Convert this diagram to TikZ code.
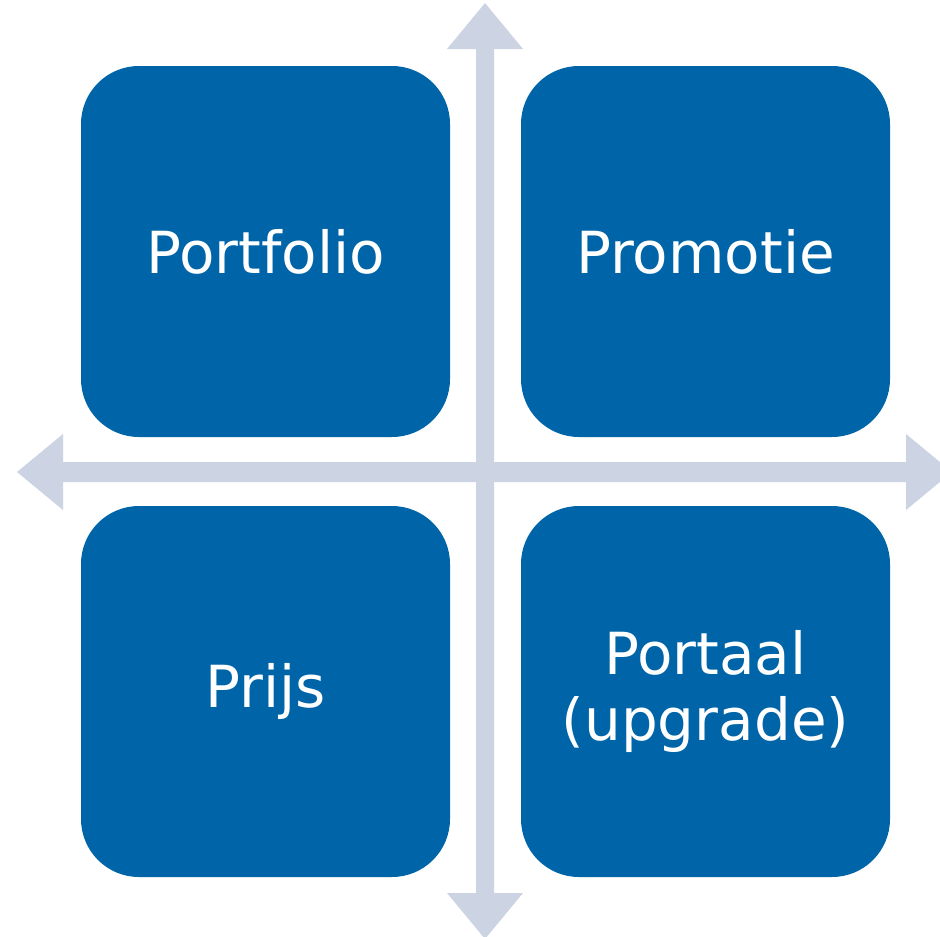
\documentclass[tikz,border=0pt]{standalone}
\usepackage{fontspec}
\setmainfont{DejaVu Sans}
\definecolor{boxblue}{HTML}{0065A8}
\definecolor{axisgray}{HTML}{CCD3E3}
\begin{document}
\begin{tikzpicture}[x=1pt,y=-1pt,
  quad/.style={rectangle, rounded corners=58pt, fill=boxblue, text=white,
    minimum width=369pt, minimum height=371pt, inner sep=0pt,
    align=center, font=\fontsize{58}{66}\selectfont}]
\useasboundingbox (0,0) rectangle (940,937);
\clip (0,0) rectangle (940,937);
% axes
\fill[axisgray] (485,3) -- (523,49) -- (494,49) -- (494,893) -- (523,893) -- (485,939)
  -- (447,893) -- (476,893) -- (476,49) -- (447,49) -- cycle;
\fill[axisgray] (17,472) -- (63,434) -- (63,462) -- (906,462) -- (906,434) -- (952,472)
  -- (906,510) -- (906,482) -- (63,482) -- (63,510) -- cycle;
% boxes
\node[quad] (portfolio) at (265.5,251.5) {Portfolio};
\node[quad] (promotie) at (705.5,251.5) {Promotie};
\node[quad] (prijs) at (265.5,691.5) {Prijs};
\node[quad] (portaal) at (705.5,691.5) {Portaal\\(upgrade)};
\end{tikzpicture}
\end{document}
